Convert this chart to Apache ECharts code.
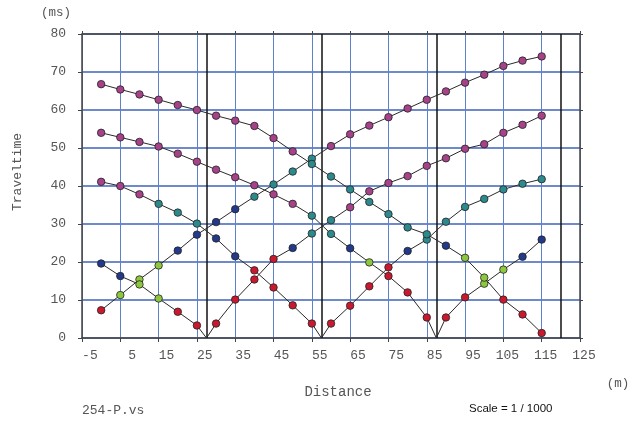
<!DOCTYPE html>
<html><head><meta charset="utf-8">
<script src="https://cdn.jsdelivr.net/npm/echarts@6/dist/echarts.min.js"></script>
<style>html,body{margin:0;padding:0;background:#fff}#c{width:629px;height:423px}</style>
</head><body><div id="c"></div>
<script>
// ---- data ----
const stations = [0,5,10,15,20,25,30,35,40,45,50,55,60,65,70,75,80,85,90,95,100,105,110,115];
const shotPositions = [-5, 27.5, 57.5, 87.5, 120];
const xTicks = [-5,5,15,25,35,45,55,65,75,85,95,105,115,125];
const yTicks = [0,10,20,30,40,50,60,70,80];

const shot1Times = [7.3,11.3,15.4,19.1,23.0,27.2,30.5,33.9,37.2,40.4,43.8,47.2,50.5,53.6,55.9,58.1,60.4,62.7,64.9,67.2,69.3,71.6,73.0,74.1];
const shot2Times = [19.6,16.3,14.1,10.4,6.9,3.3,3.8,10.1,15.4,20.8,23.7,27.5,31.0,34.4,38.6,40.8,42.6,45.3,47.3,49.8,51.0,54.0,56.1,58.5];
const shot3Times = [41.1,40.0,37.8,35.3,33.0,30.1,26.2,21.5,17.8,13.3,8.6,3.8,3.8,8.5,13.6,18.6,22.9,25.9,30.6,34.5,36.6,39.1,40.6,41.8];
const shot4Times = [54.0,52.8,51.6,50.4,48.5,46.4,44.3,42.3,40.2,37.8,35.3,32.2,27.4,23.6,19.9,16.3,12.0,5.4,5.4,10.7,14.3,18.0,21.4,25.9];
const shot5Times = [66.8,65.4,64.1,62.7,61.3,60.0,58.5,57.2,55.8,52.6,49.1,45.8,42.5,39.1,35.8,32.6,29.1,27.3,24.3,21.1,15.9,10.1,6.2,1.3];

// layer of each pick: r=red g=green b=blue t=teal m=magenta
const shot1Layers = ['r','g','g','g','b','b','b','b','t','t','t','t','m','m','m','m','m','m','m','m','m','m','m','m'];
const shot2Layers = ['b','b','g','g','r','r','r','r','r','r','b','t','t','m','m','m','m','m','m','m','m','m','m','m'];
const shot3Layers = ['m','m','m','t','t','t','b','b','r','r','r','r','r','r','r','r','b','t','t','t','t','t','t','t'];
const shot4Layers = ['m','m','m','m','m','m','m','m','m','m','m','t','t','b','g','r','r','r','r','r','g','g','b','b'];
const shot5Layers = ['m','m','m','m','m','m','m','m','m','m','m','t','t','t','t','t','t','t','b','g','g','r','r','r'];

const layerColors = { r:'#c8192e', g:'#8dc63f', b:'#23398a', t:'#2d8a8c', m:'#a5428a' };

// ---- build ----
const allTimes = [shot1Times, shot2Times, shot3Times, shot4Times, shot5Times];
const allLayers = [shot1Layers, shot2Layers, shot3Layers, shot4Layers, shot5Layers];

const series = [];
const points = [];
allTimes.forEach((times, s) => {
  const sp = shotPositions[s];
  const line = [];
  stations.forEach((x, i) => {
    if (line.length && line[line.length-1][0] < sp && x > sp) line.push([sp, 0]);
    line.push([x, times[i]]);
    points.push({ value: [x, times[i]], itemStyle: { color: layerColors[allLayers[s][i]] } });
  });
  series.push({
    type: 'line', data: line, showSymbol: false, symbol: 'none', z: 3,
    lineStyle: { color: '#2a2a2a', width: 1 }, animation: false, silent: true
  });
});
series.push({
  type: 'scatter', data: points, symbol: 'circle', symbolSize: 7.5, z: 5,
  itemStyle: { borderColor: '#222', borderWidth: 0.8, opacity: 1 }, animation: false, silent: true,
  markLine: {
    symbol: ['none','none'], silent: true, animation: false, z: 2,
    label: { show: false },
    lineStyle: { color: '#111', width: 1.5, type: 'solid' },
    data: shotPositions.slice(1).map(v => [{ coord: [v, 0] }, { coord: [v, 80] }])
  }
});

const mono = 'Liberation Mono';
const chart = echarts.init(document.getElementById('c'), null, { renderer: 'canvas' });
chart.setOption({
  animation: false,
  backgroundColor: '#fff',
  grid: { left: 82, right: 49, top: 34, bottom: 85, containLabel: false },
  xAxis: [{
    type: 'value', min: -5, max: 125, interval: 10, position: 'bottom',
    axisLine: { show: true, onZero: false, lineStyle: { color: '#444', width: 1.5 } },
    axisTick: { show: true, inside: false, length: 4, lineStyle: { color: '#444' } },
    splitLine: { show: true, lineStyle: { color: '#5f80cc', width: 1 } },
    axisLabel: { fontFamily: mono, fontSize: 13, color: '#555', margin: 11,
      align: 'center', padding: [0,0,0,8],
      formatter: v => String(v).padStart(3, ' ') }
  }, {
    type: 'value', min: -5, max: 125, interval: 10, position: 'top',
    axisLine: { show: true, onZero: false, lineStyle: { color: '#444', width: 1.5 } },
    axisTick: { show: true, length: 3, lineStyle: { color: '#444' } },
    splitLine: { show: false }, axisLabel: { show: false }
  }],
  yAxis: [{
    type: 'value', min: 0, max: 80, interval: 10, position: 'left',
    axisLine: { show: true, onZero: false, lineStyle: { color: '#444', width: 1.5 } },
    axisTick: { show: true, length: 4, lineStyle: { color: '#444' } },
    splitLine: { show: true, lineStyle: { color: '#3f63b8', width: 1.5 } },
    axisLabel: { fontFamily: mono, fontSize: 13, color: '#555', margin: 16 }
  }, {
    type: 'value', min: 0, max: 80, interval: 10, position: 'right',
    axisLine: { show: true, onZero: false, lineStyle: { color: '#444', width: 1.5 } },
    axisTick: { show: true, length: 3, lineStyle: { color: '#444' } },
    splitLine: { show: false }, axisLabel: { show: false }
  }],
  graphic: [
    { type: 'text', left: 41, top: 6, style: { text: '(ms)', font: '12.5px "Liberation Mono"', fill: '#555' } },
    { type: 'text', x: 18, y: 172, rotation: Math.PI/2,
      style: { text: 'Traveltime', font: '13px "Liberation Mono"', fill: '#555', align: 'center', verticalAlign: 'middle' } },
    { type: 'text', x: 338, y: 392, style: { text: 'Distance', font: '14px "Liberation Mono"', fill: '#555', align: 'center', verticalAlign: 'middle' } },
    { type: 'text', x: 618, y: 384, style: { text: '(m)', font: '12.5px "Liberation Mono"', fill: '#555', align: 'center', verticalAlign: 'middle' } },
    { type: 'text', x: 82, y: 411, style: { text: '254-P.vs', font: '13px "Liberation Mono"', fill: '#555', align: 'left', verticalAlign: 'middle' } },
    { type: 'text', x: 469, y: 409, style: { text: 'Scale = 1 / 1000', font: '11.5px "Liberation Sans"', fill: '#111', align: 'left', verticalAlign: 'middle' } }
  ],
  series: series
});
</script></body></html>
